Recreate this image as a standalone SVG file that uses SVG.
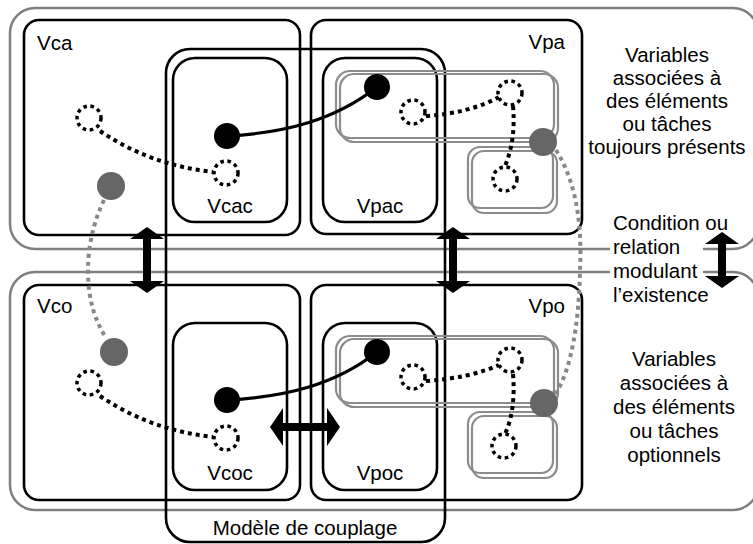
<svg xmlns="http://www.w3.org/2000/svg" width="753" height="544" viewBox="0 0 753 544">
<style>
.outer{fill:none;stroke:#7f7f7f;stroke-width:2.5}
.box{fill:none;stroke:#000;stroke-width:2.6}
.grect{fill:none;stroke:#8c8c8c;stroke-width:2.2}
.dc{fill:#fff;stroke:#000;stroke-width:3.5;stroke-dasharray:3.6 3.6}
.bc{fill:#000}
.gc{fill:#666}
.dl{fill:none;stroke:#000;stroke-width:4;stroke-dasharray:4 4}
.gl{fill:none;stroke:#888;stroke-width:4;stroke-dasharray:4 4}
.sl{fill:none;stroke:#000;stroke-width:3.2}
.arr{fill:#000}
text{font-family:"Liberation Sans",Arial,sans-serif;font-size:20.5px;fill:#000}
.c{text-anchor:middle}
.e{text-anchor:end}
</style>
<rect width="753" height="544" fill="#fff"/>
<g id="zone-toujours">
<rect class="outer" x="10" y="8" width="748" height="241" rx="25"/>
</g>
<g id="zone-optionnels">
<rect class="outer" x="10" y="272" width="748" height="238" rx="25"/>
</g>
<g id="Vca">
<rect class="box" x="24" y="20" width="276" height="215" rx="15"/>
<text x="37" y="50">Vca</text>
</g>
<g id="Vpa">
<rect class="box" x="311" y="20" width="271" height="214" rx="15"/>
<text class="e" x="565" y="49">Vpa</text>
</g>
<g id="Vco">
<rect class="box" x="24" y="285" width="276" height="215" rx="15"/>
<text x="37" y="313">Vco</text>
</g>
<g id="Vpo">
<rect class="box" x="311" y="285" width="271" height="215" rx="15"/>
<text class="e" x="565" y="313">Vpo</text>
</g>
<g id="Vcac">
<rect class="box" x="173" y="58" width="114" height="164" rx="22"/>
<text class="c" x="230" y="213">Vcac</text>
</g>
<g id="Vpac">
<rect class="box" x="323" y="58" width="114" height="164" rx="22"/>
<text class="c" x="380" y="213">Vpac</text>
</g>
<g id="Vcoc">
<rect class="box" x="173" y="323" width="114" height="167" rx="22"/>
<text class="c" x="230" y="480">Vcoc</text>
</g>
<g id="Vpoc">
<rect class="box" x="323" y="323" width="114" height="167" rx="22"/>
<text class="c" x="380" y="480">Vpoc</text>
</g>
<g id="modele-couplage">
<rect class="box" x="166" y="49" width="279" height="493" rx="24"/>
<text class="c" x="305" y="535">Modèle de couplage</text>
</g>
<g id="groupes-gris-a">
<rect class="grect" x="336" y="71" width="218" height="67" rx="14"/>
<rect class="grect" x="340" y="74" width="218" height="68" rx="14"/>
<rect class="grect" x="468" y="147" width="85" height="61" rx="12"/>
<rect class="grect" x="472" y="151" width="85" height="62" rx="12"/>
</g>
<g id="groupes-gris-o">
<rect class="grect" x="336" y="336" width="218" height="67" rx="14"/>
<rect class="grect" x="340" y="339" width="218" height="68" rx="14"/>
<rect class="grect" x="468" y="412" width="85" height="61" rx="12"/>
<rect class="grect" x="472" y="416" width="85" height="62" rx="12"/>
</g>
<g id="connectors">
<path class="gl" d="M104,200 C92,225 88,250 88,270 C88,300 95,320 106,338"/>
<path class="gl" d="M556,150 C578,185 582,230 580,270 C579,320 572,370 555,394"/>
<path class="dl" d="M100,131 Q150,165 213,172"/>
<path class="dl" d="M100,396 Q150,430 213,437"/>
<path class="sl" d="M227,136 C285,133 335,120 377,87"/>
<path class="sl" d="M227,400 C285,397 335,385 377,352"/>
<path class="dl" d="M426,116 Q470,113 499,97"/>
<path class="dl" d="M513,106 Q516,140 505,166"/>
<path class="dl" d="M426,381 Q470,378 499,365"/>
<path class="dl" d="M513,374 Q516,410 505,434"/>
<polygon class="arr" points="147,227 164,239 151,239 151,281 164,281 147,293 130,281 143,281 143,239 130,239"/>
<polygon class="arr" points="453,227 470,239 457,239 457,281 470,281 453,293 436,281 449,281 449,239 436,239"/>
<polygon class="arr" points="270,427 283,408 283,423 327,423 327,408 340,427 327,446 327,431 283,431 283,446"/>
</g>
<g id="noeuds-cercles">
<circle class="dc" cx="89" cy="118" r="12"/>
<circle class="dc" cx="226" cy="173" r="12"/>
<circle class="bc" cx="227" cy="136" r="13"/>
<circle class="bc" cx="377" cy="87" r="13"/>
<circle class="gc" cx="111" cy="186" r="14"/>
<circle class="dc" cx="413" cy="112" r="12"/>
<circle class="dc" cx="510" cy="93" r="12"/>
<circle class="dc" cx="505" cy="179" r="12"/>
<circle class="gc" cx="543" cy="142" r="14"/>
<circle class="gc" cx="114" cy="352" r="14"/>
<circle class="dc" cx="89" cy="383" r="12"/>
<circle class="dc" cx="226" cy="438" r="12"/>
<circle class="bc" cx="227" cy="400" r="13"/>
<circle class="bc" cx="377" cy="352" r="13"/>
<circle class="dc" cx="413" cy="377" r="12"/>
<circle class="dc" cx="510" cy="360" r="12"/>
<circle class="dc" cx="504" cy="446" r="12"/>
<circle class="gc" cx="544" cy="403" r="14"/>
</g>
<g id="legende">
<rect x="610" y="238" width="93" height="44" fill="#fff"/>
<text x="613" y="230">Condition ou</text>
<text x="613" y="254">relation</text>
<text x="613" y="278">modulant</text>
<text x="613" y="302">l’existence</text>
<polygon class="arr" points="722,232 739,244 726,244 726,276 739,276 722,288 705,276 718,276 718,244 705,244"/>
<text class="c" x="667" y="62">Variables</text>
<text class="c" x="667" y="85">associées à</text>
<text class="c" x="667" y="108">des éléments</text>
<text class="c" x="667" y="131">ou tâches</text>
<text class="c" x="667" y="154">toujours présents</text>
<text class="c" x="674" y="366">Variables</text>
<text class="c" x="674" y="390">associées à</text>
<text class="c" x="674" y="414">des éléments</text>
<text class="c" x="674" y="438">ou tâches</text>
<text class="c" x="674" y="462">optionnels</text>
</g>
</svg>
